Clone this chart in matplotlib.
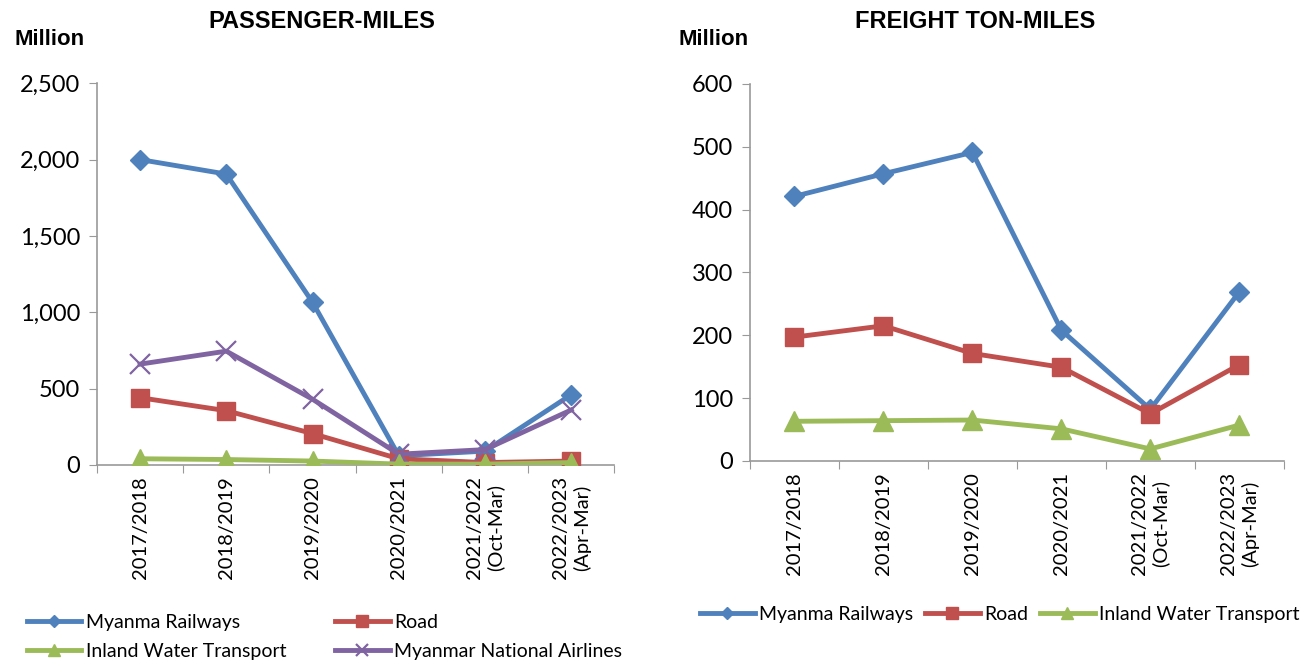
import numpy as np
import matplotlib.pyplot as plt
from matplotlib import font_manager

names = set(f.name for f in font_manager.fontManager.ttflist)
narrow = "Liberation Sans Narrow" if "Liberation Sans Narrow" in names else "Liberation Sans"
body = "Lato"

plt.rcParams['font.family'] = [body, 'DejaVu Sans']

years = ["2017/2018", "2018/2019", "2019/2020", "2020/2021",
         "2021/2022\n(Oct-Mar)", "2022/2023\n(Apr-Mar)"]

# passenger-miles (million)
pm_rail = [2000, 1905, 1065, 60, 90, 460]
pm_road = [440, 355, 205, 40, 15, 25]
pm_iwt = [40, 35, 25, 5, 5, 15]
pm_air = [660, 745, 430, 70, 100, 360]

# freight ton-miles (million)
ft_rail = [421, 457, 491, 208, 82, 269]
ft_road = [197, 215, 171, 149, 75, 153]
ft_iwt = [63, 64, 65, 51, 19, 57]

blue = "#4F81BD"
red = "#C0504D"
green = "#9BBB59"
purple = "#8064A2"

fig = plt.figure(figsize=(13.1, 6.66), dpi=100)
ax1 = fig.add_axes([0.074, 0.302, 0.395, 0.573])
ax2 = fig.add_axes([0.5725, 0.308, 0.4075, 0.566])

def style(ax, ymax, step):
    x = np.arange(len(years))
    ax.set_xlim(-0.5, len(years) - 0.5)
    ax.set_ylim(0, ymax)
    ax.set_yticks(np.arange(0, ymax + 1, step))
    ax.yaxis.set_major_formatter(plt.FuncFormatter(lambda v, p: f"{int(v):,}"))
    ax.set_xticks(np.arange(-0.5, len(years)), minor=False)
    ax.set_xticklabels([])
    ax.set_xticks(x, minor=True)
    ax.set_xticklabels(years, minor=True, rotation=90, fontsize=14.5, va="top",
                       linespacing=1.25)
    ax.tick_params(axis="x", which="minor", length=0, pad=8)
    ax.tick_params(axis="x", which="major", length=6, color="#999999")
    ax.tick_params(axis="y", length=6, color="#999999", labelsize=17, pad=6)
    for s in ["top", "right"]:
        ax.spines[s].set_visible(False)
    for s in ["left", "bottom"]:
        ax.spines[s].set_color("#999999")
        ax.spines[s].set_linewidth(1.2)
    return x

x = style(ax1, 2500, 500)
lw = 3.5
ax1.plot(x, pm_rail, color=blue, lw=lw, marker="D", ms=10.5, label="Myanma Railways", zorder=3)
ax1.plot(x, pm_road, color=red, lw=lw, marker="s", ms=13.5, label="Road", zorder=3)
ax1.plot(x, pm_iwt, color=green, lw=lw, marker="^", ms=15, label="Inland Water Transport", zorder=4)
ax1.plot(x, pm_air, color=purple, lw=lw, marker="x", ms=14, mew=1.6, label="Myanmar National Airlines", zorder=3)

x = style(ax2, 600, 100)
ax2.plot(x, ft_rail, color=blue, lw=lw, marker="D", ms=10.5, label="Myanma Railways", zorder=3)
ax2.plot(x, ft_road, color=red, lw=lw, marker="s", ms=13.5, label="Road", zorder=3)
ax2.plot(x, ft_iwt, color=green, lw=lw, marker="^", ms=15, label="Inland Water Transport", zorder=3)

fig.text(0.246, 0.967, "PASSENGER-MILES", ha="center", va="center",
         family=narrow, fontweight="bold", fontsize=17)
fig.text(0.744, 0.967, "FREIGHT TON-MILES", ha="center", va="center",
         family=narrow, fontweight="bold", fontsize=17)
fig.text(0.011, 0.94, "Million", ha="left", va="center",
         family=narrow, fontweight="bold", fontsize=16)
fig.text(0.518, 0.94, "Million", ha="left", va="center",
         family=narrow, fontweight="bold", fontsize=16)

h, l = ax1.get_legend_handles_labels()
order = [0, 2, 1, 3]
fig.legend([h[i] for i in order], [l[i] for i in order], ncol=2,
           loc="center left", bbox_to_anchor=(0.013, 0.044), frameon=False,
           borderpad=0, fontsize=14, handlelength=2.8, handletextpad=0.25,
           columnspacing=2.5, markerscale=0.6, labelspacing=0.6)
h, l = ax2.get_legend_handles_labels()
fig.legend(h, l, ncol=3, loc="center left", bbox_to_anchor=(0.527, 0.078),
           frameon=False, borderpad=0, fontsize=14, handlelength=2.8,
           handletextpad=0.25, columnspacing=0.6, markerscale=0.6)

fig.savefig("out.png", dpi=100)
